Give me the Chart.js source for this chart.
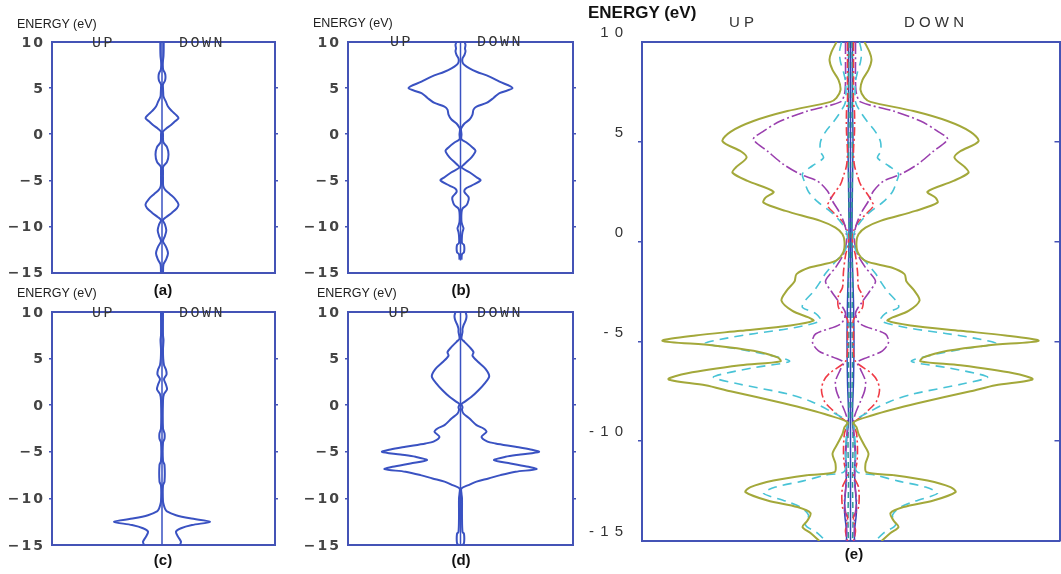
<!DOCTYPE html>
<html><head><meta charset="utf-8">
<script src="https://cdn.jsdelivr.net/npm/chart.js@4.4.1/dist/chart.umd.min.js"></script>
<style>
html,body{margin:0;padding:0;background:#fff;}
body{width:1061px;height:574px;position:relative;overflow:hidden;}
canvas{position:absolute;}
.t{position:absolute;white-space:nowrap;}
</style></head><body>
<canvas id="ca" width="290" height="285" style="left:0px;top:0px;width:290px;height:285px"></canvas>
<canvas id="cb" width="290" height="285" style="left:290px;top:0px;width:290px;height:285px"></canvas>
<canvas id="cc" width="290" height="289" style="left:0px;top:285px;width:290px;height:289px"></canvas>
<canvas id="cd" width="290" height="289" style="left:290px;top:285px;width:290px;height:289px"></canvas>
<canvas id="ce" width="481" height="574" style="left:580px;top:0px;width:481px;height:574px"></canvas>
<script>
// ---------------- DATA ----------------
const panelNames = ['(a)', '(b)', '(c)', '(d)', '(e)'];
const spinLabels = ['UP', 'DOWN'];
const axisTitle = 'ENERGY (eV)';
const E_MIN = -15, E_MAX = 10, E_STEP = 5;   // energy axis (eV), ticks 10,5,0,-5,-10,-15

// [energy (eV), DOS (arb. units)] ; curve is mirrored: spin UP to the left, DOWN to the right
const dosA = [[10,0.17],[9.2,0.17],[8.5,0.15],[8.0,0.1],[7.5,0.08],[7.0,0.12],[6.6,0.3],[6.2,0.35],[5.8,0.3],[5.4,0.1],[5.0,0.1],[4.5,0.12],[4.1,0.15],[3.5,0.4],[3.0,0.6],[2.5,1.0],[2.1,1.4],[1.75,1.65],[1.4,1.3],[1.0,0.9],[0.6,0.4],[0.3,0.1],[0,0.1],[-0.5,0.1],[-0.9,0.15],[-1.4,0.5],[-2.2,0.65],[-3.0,0.5],[-3.5,0.12],[-4.0,0.1],[-5.0,0.1],[-5.6,0.12],[-6.0,0.3],[-6.5,0.8],[-7.0,1.3],[-7.6,1.65],[-8.0,1.5],[-8.5,1.0],[-9.0,0.4],[-9.3,0.1],[-9.8,0.3],[-10.4,0.43],[-11.0,0.3],[-11.6,0.1],[-12.2,0.4],[-12.9,0.6],[-13.6,0.4],[-14.1,0.15],[-15,0.1]];
const dosB = [[10,0.4],[9.7,0.5],[9.3,0.45],[9.0,0.5],[8.6,0.4],[8.2,0.2],[7.8,0.2],[7.5,0.4],[7.14,0.9],[6.78,1.6],[6.25,2.9],[5.7,3.9],[5.0,5.2],[4.46,3.9],[3.93,3.3],[3.39,2.6],[3.0,1.6],[2.67,1.3],[2.14,1.2],[1.6,0.9],[1.17,0.4],[0.7,0.1],[0.5,0.05],[0,0.1],[-0.55,0.1],[-0.9,0.6],[-1.43,1.2],[-1.8,1.5],[-2.5,1.1],[-3.23,0.4],[-3.58,0.1],[-4.12,0.9],[-4.66,1.6],[-5.0,2.0],[-5.56,1.1],[-5.9,0.5],[-6.27,0.4],[-6.8,0.8],[-7.17,0.8],[-7.7,0.6],[-8.06,0.2],[-8.5,0.1],[-9.5,0.1],[-9.9,0.2],[-10.2,0.3],[-10.6,0.2],[-11.0,0.15],[-11.8,0.15],[-12.0,0.35],[-12.8,0.35],[-13.0,0.15],[-13.6,0.1]];
const dosC = [[10,0.1],[7.5,0.1],[7.0,0.15],[6.0,0.1],[5.0,0.12],[4.3,0.2],[3.8,0.4],[3.3,0.45],[2.8,0.2],[2.2,0.4],[1.7,0.5],[1.2,0.2],[0.5,0.1],[-2.5,0.1],[-3.0,0.25],[-3.6,0.25],[-4.0,0.1],[-6.0,0.1],[-6.4,0.25],[-8.2,0.25],[-8.6,0.1],[-10.3,0.1],[-10.8,0.2],[-11.1,0.3],[-11.4,0.5],[-11.8,1.4],[-12.14,2.8],[-12.5,4.8],[-12.86,3.0],[-13.2,1.9],[-13.57,1.4],[-14.1,1.6],[-14.64,1.9],[-15,1.8]];
const dosD = [[10,0.5],[9.6,0.6],[9.2,0.55],[8.8,0.4],[8.57,0.3],[8.2,0.2],[7.86,0.2],[7.14,0.1],[6.8,0.4],[6.25,0.9],[5.7,1.3],[5.3,1.2],[4.6,1.8],[3.9,2.5],[3.1,2.87],[2.32,2.4],[1.6,1.8],[0.9,1.1],[0.36,0.4],[0.1,0.1],[-0.2,0.2],[-0.5,0.15],[-0.9,0.3],[-1.43,0.9],[-2.14,1.6],[-2.5,2.3],[-2.86,2.6],[-3.4,2.1],[-3.9,2.7],[-4.1,3.5],[-4.46,5.5],[-4.75,7.0],[-5.0,7.85],[-5.29,6.0],[-5.54,4.5],[-5.9,3.35],[-6.25,5.0],[-6.6,6.8],[-6.86,7.6],[-7.14,5.5],[-7.5,4.0],[-7.86,2.8],[-8.2,1.6],[-8.57,0.8],[-8.93,0.1],[-9.5,0.1],[-10.0,0.15],[-12.0,0.15],[-13.6,0.2],[-13.8,0.35],[-14.8,0.35],[-15,0.2]];

// panel (e): total and projected DOS
const eTotal = [[10,1.4],[9.5,1.9],[9.1,2.1],[8.6,1.8],[8.1,1.2],[7.6,1.0],[7.2,1.4],[7.0,2.0],[6.54,6.3],[6.04,9.7],[5.5,12.0],[5.03,12.8],[4.5,10.9],[4.2,10.4],[3.7,11.5],[3.45,11.8],[3.04,10.3],[2.5,7.7],[2.2,8.5],[1.95,8.7],[1.54,6.5],[1.04,3.0],[0.7,1.5],[0.37,0.8],[0,0.6],[-0.5,0.7],[-0.97,1.5],[-1.3,4.1],[-1.63,5.4],[-2.0,5.6],[-2.47,6.4],[-2.96,6.9],[-3.47,5.8],[-3.8,4.2],[-3.96,3.7],[-4.2,6.0],[-4.47,11.0],[-4.7,15.5],[-4.97,18.8],[-5.2,13.7],[-5.47,9.7],[-5.8,7.3],[-6.0,7.0],[-6.2,11.0],[-6.6,16.3],[-6.9,18.2],[-7.2,14.5],[-7.5,12.0],[-7.8,9.3],[-8.1,6.7],[-8.4,4.3],[-8.7,2.2],[-9.05,0.3],[-9.3,0.6],[-9.63,0.8],[-10.13,1.3],[-10.63,1.8],[-11.13,1.5],[-11.55,1.6],[-11.7,4.3],[-11.97,7.7],[-12.3,10.0],[-12.55,10.5],[-12.97,8.3],[-13.3,5.3],[-13.6,4.0],[-13.97,4.3],[-14.3,4.8],[-14.6,4.0],[-15,3.1]];
const ePurple = [[10,0.5],[9.0,0.5],[8.0,0.5],[7.4,0.6],[7.0,1.0],[6.54,4.3],[6.04,7.0],[5.5,8.8],[5.13,9.7],[4.53,8.3],[3.87,6.7],[3.37,5.0],[3.03,3.3],[2.53,2.3],[2.03,1.8],[1.37,1.0],[0.7,0.5],[0,0.4],[-0.63,0.7],[-1.3,1.5],[-1.6,2.0],[-2.0,2.5],[-2.5,1.9],[-3.0,1.2],[-3.6,0.5],[-4.13,1.0],[-4.63,3.5],[-5.05,3.8],[-5.47,3.2],[-5.8,1.7],[-6.05,0.7],[-6.4,1.0],[-7.0,1.5],[-7.5,1.4],[-8.0,1.0],[-8.6,0.5],[-9.0,0.3],[-10,0.4],[-11,0.5],[-12,0.4],[-13,0.6],[-14,0.4],[-15,0.4]];
const eCyan = [[10,0.9],[9.5,1.1],[9.0,1.0],[8.5,0.7],[8.0,0.5],[7.0,0.5],[6.5,1.0],[6.0,1.7],[5.5,2.5],[5.0,3.0],[4.5,3.0],[4.2,2.7],[3.8,3.8],[3.4,4.8],[3.0,4.6],[2.5,4.2],[2.0,3.3],[1.5,2.0],[1.0,1.0],[0.5,0.4],[0,0.3],[-0.5,0.6],[-1.0,1.5],[-1.6,2.5],[-2.0,3.0],[-2.5,3.7],[-3.0,4.6],[-3.3,4.8],[-3.6,3.5],[-3.96,3.0],[-4.3,5.5],[-4.6,9.5],[-4.85,12.5],[-5.1,14.5],[-5.4,11.0],[-5.7,8.0],[-6.0,6.1],[-6.3,9.5],[-6.6,12.5],[-6.8,13.7],[-7.1,11.5],[-7.63,6.3],[-8.0,4.0],[-8.5,2.0],[-9.0,0.4],[-9.5,0.4],[-10.5,0.5],[-11.5,0.6],[-11.7,2.5],[-12.0,4.8],[-12.3,7.5],[-12.6,8.7],[-13.0,6.5],[-13.3,5.0],[-13.7,4.2],[-14.2,4.5],[-14.6,3.3],[-15,2.5]];
const eRed = [[10,0.3],[8,0.3],[7,0.3],[6.5,0.4],[5.5,0.4],[4.5,0.3],[3.8,0.4],[3.3,0.7],[2.87,1.0],[2.3,1.8],[2.03,2.1],[1.8,2.3],[1.4,1.6],[1.0,0.8],[0.5,0.3],[0,0.2],[-0.7,0.5],[-1.5,0.7],[-2.3,0.8],[-2.7,1.2],[-3.3,1.2],[-3.9,0.3],[-4.5,0.3],[-5.5,0.3],[-6.0,0.5],[-6.6,2.1],[-7.0,2.7],[-7.47,2.9],[-8.0,2.6],[-8.3,2.1],[-8.8,1.0],[-9.1,0.3],[-9.6,0.6],[-10.5,0.7],[-11.2,0.6],[-11.7,0.3],[-12.3,0.8],[-13.3,0.8],[-13.8,0.3],[-14.5,0.5],[-15,0.3]];
const eTeal = [[10,0.15],[8,0.2],[6,0.15],[4,0.2],[2,0.15],[0,0.1],[-2,0.2],[-4,0.15],[-6,0.2],[-8,0.15],[-10,0.25],[-12,0.2],[-14,0.25],[-15,0.2]];
const eBlue = [[10,0.2],[7,0.2],[5,0.25],[3,0.2],[0,0.15],[-3,0.3],[-5,0.35],[-7,0.3],[-9,0.2],[-10.5,0.5],[-11.5,0.4],[-12.5,0.5],[-13.5,0.6],[-14.5,0.4],[-15,0.4]];
const centerLineEnd = { a: E_MIN, b: -13.7, c: E_MIN, d: E_MIN, e: E_MIN };

// ---------------- STYLE ----------------
const AX = '#4453b6';
const CURVE = '#3a52c2';
const COL = { total: '#a3a83a', purple: '#9a3fae', cyan: '#48c3d6', red: '#f03a45', teal: '#2e9c92', blue: '#3447b8' };

function spacingPlugin(px) {
  return { id: 'ls', beforeDraw(chart) { chart.ctx.letterSpacing = px + 'px'; } };
}
function mirror(pts, color, width, dash, tension) {
  const right = pts.map(p => ({ x: p[1], y: p[0] }));
  const left = pts.map(p => ({ x: -p[1], y: p[0] }));
  return [right, left].map(d => ({
    data: d, showLine: true, borderColor: color, borderWidth: width, borderDash: dash || [],
    pointRadius: 0, tension: tension, fill: false, xAxisID: 'x', yAxisID: 'y'
  }));
}
function centerLine(end, color, width) {
  return { data: [{ x: 0, y: E_MAX }, { x: 0, y: end }], showLine: true, borderColor: color, borderWidth: width,
    pointRadius: 0, tension: 0, xAxisID: 'x', yAxisID: 'y' };
}
function scales(xMin, xMax, o) {
  const tickCol = c => (c.tick && (c.tick.value === E_MAX || c.tick.value === E_MIN)) ? 'rgba(0,0,0,0)' : AX;
  const hid = (pos, isX) => ({
    type: 'linear', position: pos, min: isX ? xMin : E_MIN, max: isX ? xMax : E_MAX,
    ticks: { display: false, stepSize: E_STEP }, grid: { display: false, drawTicks: false },
    border: { display: true, color: AX, width: 2 },
    afterFit: s => { if (isX) s.height = 0; else s.width = 0; }
  });
  return {
    x: hid('bottom', true),
    xt: hid('top', true),
    y: {
      type: 'linear', position: 'left', min: E_MIN, max: E_MAX,
      ticks: { stepSize: E_STEP, color: o.labelColor, font: o.font, padding: o.pad, labelOffset: o.labelOffset, callback: o.fmt },
      grid: { display: true, drawOnChartArea: false, drawTicks: true, tickLength: o.tl, color: tickCol, lineWidth: 1.5 },
      border: { display: true, color: AX, width: 2 },
      afterFit: s => { s.width = o.yw; }
    },
    yr: {
      type: 'linear', position: 'right', min: E_MIN, max: E_MAX,
      ticks: { display: false, stepSize: E_STEP },
      grid: { display: true, drawOnChartArea: false, drawTicks: true, tickLength: o.tlr, color: tickCol, lineWidth: 1.5 },
      border: { display: true, color: AX, width: 2 },
      afterFit: s => { s.width = 0; }
    }
  };
}
const fmtSmall = v => (v < 0 ? '\u2212' : '') + Math.abs(v);
const fmtBig = v => (v < 0 ? '-' + Math.abs(v) : String(v)).split('').join(' ');

function smallPanel(id, pts, lineEnd, xr, pad) {
  const o = { labelColor: '#444', font: { family: 'DejaVu Sans', weight: 'bold', size: 14 }, pad: 4, labelOffset: 1,
              fmt: fmtSmall, tl: 3, tlr: 3, yw: pad.yw };
  new Chart(document.getElementById(id), {
    type: 'scatter',
    data: { datasets: [centerLine(lineEnd, CURVE, 1.5), ...mirror(pts, CURVE, 2, [], 0.3)] },
    options: {
      responsive: false, animation: false,
      layout: { padding: { left: 0, top: pad.top, right: pad.right, bottom: pad.bottom } },
      plugins: { legend: { display: false }, tooltip: { enabled: false } },
      scales: scales(xr[0], xr[1], o)
    },
    plugins: [spacingPlugin(2)]
  });
}
smallPanel('ca', dosA, centerLineEnd.a, [-11.0, 11.3], { yw: 52, top: 42, right: 15, bottom: 11 });
smallPanel('cb', dosB, centerLineEnd.b, [-11.25, 11.25], { yw: 58, top: 42, right: 7, bottom: 10.5 });
smallPanel('cc', dosC, centerLineEnd.c, [-11.0, 11.3], { yw: 52, top: 27, right: 15, bottom: 29 });
smallPanel('cd', dosD, centerLineEnd.d, [-11.25, 11.25], { yw: 58, top: 27, right: 7, bottom: 29 });

(function bigPanel() {
  const o = { labelColor: '#333', font: { family: 'Liberation Sans', size: 15 }, pad: 14, labelOffset: -9,
              fmt: fmtBig, tl: 4, tlr: -5, yw: 62 };
  const ds = [
    ...mirror(eTotal, COL.total, 2, [], 0.3),
    ...mirror(eCyan, COL.cyan, 1.6, [9, 6], 0.3),
    ...mirror(ePurple, COL.purple, 1.6, [12, 3, 2, 3], 0.3),
    ...mirror(eRed, COL.red, 1.6, [9, 3, 2, 3], 0.3),
    ...mirror(eTeal, COL.teal, 1.5, [6, 4], 0.3),
    ...mirror(eBlue, COL.blue, 1.5, [], 0.3),
    centerLine(centerLineEnd.e, COL.blue, 1.5)
  ];
  new Chart(document.getElementById('ce'), {
    type: 'scatter',
    data: { datasets: ds },
    options: {
      responsive: false, animation: false,
      layout: { padding: { left: 0, top: 42, right: 1.5, bottom: 33 } },
      plugins: { legend: { display: false }, tooltip: { enabled: false } },
      scales: scales(-20.85, 20.9, o)
    },
    plugins: [spacingPlugin(1)]
  });
})();

// ---------------- TEXT ----------------
const METRICS = { 'Liberation Sans': [0.905, 0.212], 'Liberation Mono': [0.833, 0.300], 'DejaVu Sans': [0.928, 0.236] };
function addText(txt, x, base, o) {
  const d = document.createElement('div');
  d.className = 't';
  d.textContent = txt;
  const S = o.size, m = METRICS[o.family];
  d.style.fontFamily = "'" + o.family + "'";
  d.style.fontSize = S + 'px';
  d.style.fontWeight = o.weight || 'normal';
  d.style.lineHeight = S + 'px';
  d.style.color = o.color || '#222';
  d.style.letterSpacing = (o.ls || 0) + 'px';
  d.style.top = (base - (S * (1 - m[0] - m[1]) / 2 + m[0] * S)) + 'px';
  d.style.left = x + 'px';
  if (o.align === 'center') d.style.transform = 'translateX(-50%)';
  document.body.appendChild(d);
}
const tTitle = { family: 'Liberation Sans', size: 12.5, color: '#222' };
addText(axisTitle, 17, 29, tTitle);
addText(axisTitle, 313, 28, tTitle);
addText(axisTitle, 17, 297.5, tTitle);
addText(axisTitle, 317, 298, tTitle);
addText(axisTitle, 588, 18, { family: 'Liberation Sans', size: 17, weight: 'bold', color: '#111' });

const tSpin = { family: 'Liberation Mono', size: 15, color: '#333', ls: 2.5, align: 'center' };
addText(spinLabels[0], 103.5, 47, tSpin); addText(spinLabels[1], 202, 47, tSpin);
addText(spinLabels[0], 401.5, 46, tSpin); addText(spinLabels[1], 500, 46, tSpin);
addText(spinLabels[0], 103.5, 317, tSpin); addText(spinLabels[1], 202, 317, tSpin);
addText(spinLabels[0], 400, 317, tSpin); addText(spinLabels[1], 500, 317, tSpin);
const tSpinE = { family: 'Liberation Sans', size: 15, color: '#333', align: 'center' };
addText(spinLabels[0].split('').join(' '), 741.5, 27, tSpinE);
addText(spinLabels[1].split('').join(' '), 934, 27, tSpinE);

const tCap = { family: 'Liberation Sans', size: 15, weight: 'bold', color: '#111', align: 'center' };
addText(panelNames[0], 163, 295, tCap);
addText(panelNames[1], 461, 295, tCap);
addText(panelNames[2], 163, 565, tCap);
addText(panelNames[3], 461, 565, tCap);
addText(panelNames[4], 854, 559, tCap);
</script>
</body></html>
